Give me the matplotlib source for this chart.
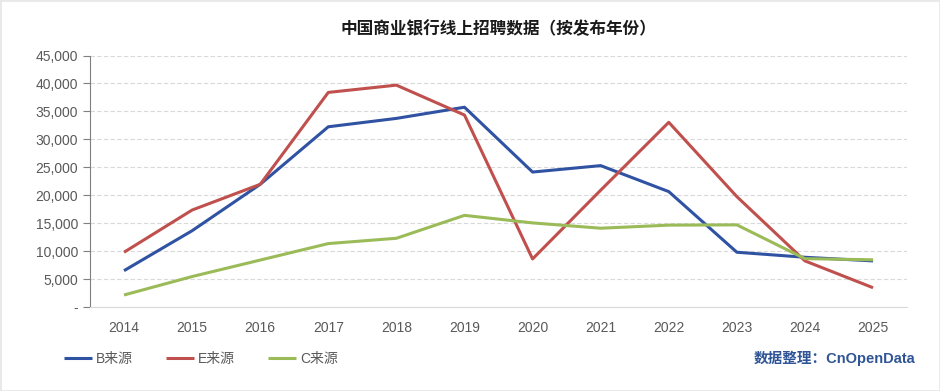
import matplotlib
matplotlib.use("Agg")
import matplotlib.pyplot as plt
from matplotlib.ticker import FuncFormatter, MultipleLocator
import matplotlib.patches as mpatches

plt.rcParams["font.family"] = ["Liberation Sans", "Noto Sans CJK SC", "DejaVu Sans"]

years = ["2014", "2015", "2016", "2017", "2018", "2019",
         "2020", "2021", "2022", "2023", "2024", "2025"]
b_source = [6500, 13650, 21950, 32250, 33750, 35750, 24150, 25300, 20650, 9800, 8900, 8250]
e_source = [9800, 17350, 21950, 38400, 39700, 34350, 8600, 20900, 33050, 19750, 8250, 3450]
c_source = [2150, 5450, 8400, 11350, 12300, 16400, 15050, 14100, 14650, 14700, 8650, 8450]

series = [("B来源", b_source, "#2F53A2"),
          ("E来源", e_source, "#C0504D"),
          ("C来源", c_source, "#9BBB59")]

fig = plt.figure(figsize=(9.4, 3.91), dpi=100)
ax = fig.add_axes([0.0957, 0.2148, 0.8693, 0.6432])

x = range(len(years))
for name, vals, color in series:
    ax.plot(x, vals, color=color, linewidth=2.2, label=name, solid_capstyle="butt")

ax.set_xlim(-0.5, len(years) - 0.5)
ax.set_ylim(0, 45000)
ax.yaxis.set_major_locator(MultipleLocator(5000))
ax.yaxis.set_major_formatter(FuncFormatter(lambda v, p: "-" if v == 0 else f"{int(v):,}"))
ax.set_xticks(list(x))
ax.set_xticklabels(years)

ax.grid(True, axis="y", linestyle=(0, (4, 2)), color="#D9D9D9", linewidth=0.8)
ax.set_axisbelow(True)
for s in ["top", "right"]:
    ax.spines[s].set_visible(False)
ax.spines["left"].set_color("#7F7F7F")
ax.spines["bottom"].set_color("#D9D9D9")
ax.tick_params(axis="y", colors="#7F7F7F", labelcolor="#595959", labelsize=10, length=5, direction="out")
ax.tick_params(axis="x", length=0, labelcolor="#595959", labelsize=10, pad=10)

fig.text(0.53, 0.925, "中国商业银行线上招聘数据（按发布年份）", ha="center", va="center",
         fontsize=12, fontweight="bold", family=["Noto Sans CJK SC"], color="#1A1A1A")

handles, labels = ax.get_legend_handles_labels()
fig.legend(handles, labels, loc="center left", bbox_to_anchor=(0.0545, 0.083), ncol=3,
           frameon=False, fontsize=10, handlelength=2.0, handletextpad=0.3,
           columnspacing=2.4, labelcolor="#595959")

fig.text(0.974, 0.083, "数据整理：CnOpenData", ha="right", va="center", fontsize=10.5,
         fontweight="bold", color="#2F5597", family=["Liberation Sans", "Noto Sans CJK SC"])

fig.patches.append(mpatches.Rectangle((0, 0), 1, 1, transform=fig.transFigure,
                                      fill=False, edgecolor="#E8E8E8", linewidth=2))

fig.savefig("out.png", dpi=100)
